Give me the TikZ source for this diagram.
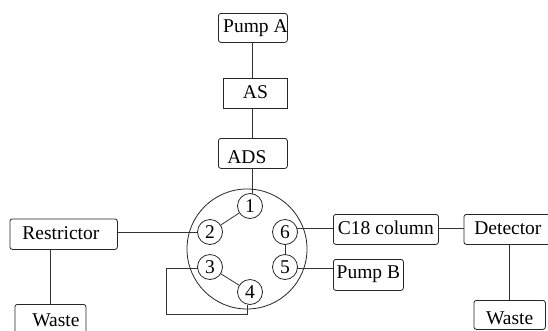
\documentclass[tikz,border=0pt]{standalone}
\usepackage{fontspec}
\setmainfont{Liberation Serif}
\tikzset{
  x=1pt,y=-1pt,
  wire/.style={draw=black!80,line width=0.8pt},
  rbox/.style={draw=black!85,line width=0.8pt,rounded corners=2.5pt,inner sep=0pt,anchor=north west,align=center,font=\fontsize{19.5}{20}\selectfont},
  sbox/.style={rbox,rounded corners=0pt},
  port/.style={draw=black!85,line width=0.8pt,circle,minimum size=25pt,inner sep=0pt,font=\fontsize{19.5}{20}\selectfont},
  ring/.style={draw=black!85,line width=0.8pt,circle,minimum size=120pt,inner sep=0pt}
}
% text placed with its baseline dy below and its centre dx right of the box centre
\newcommand{\placedtext}[3]{\raisebox{-#2pt}[0pt][0pt]{\makebox[0pt]{\hspace*{#1pt}\hspace*{#1pt}#3}}}
\begin{document}
\begin{tikzpicture}
\useasboundingbox (0,0) rectangle (548,330);
\clip (0,0) rectangle (548,330);
\node[ring] (valve) at (247,249) {};
\node[port] (p1) at (250,206) {1};
\node[port] (p2) at (210,232) {2};
\node[port] (p3) at (210,267) {3};
\node[port] (p4) at (250,292) {4};
\node[port] (p5) at (285,267) {5};
\node[port] (p6) at (285,232) {6};
\node[rbox,minimum width=69pt,minimum height=29pt] (pumpa) at (218,13) {\placedtext{2.5}{4.8}{Pump A}};
\node[sbox,minimum width=64.5pt,minimum height=30pt] (as) at (222.5,78) {\placedtext{0.25}{4.7}{AS}};
\node[rbox,minimum width=69pt,minimum height=30pt] (ads) at (218,138) {\placedtext{-6}{10.3}{ADS}};
\node[rbox,minimum width=107.5pt,minimum height=30.5pt] (restrictor) at (9.5,218.5) {\placedtext{-2.75}{5.25}{Restrictor}};
\node[rbox,minimum width=71pt,minimum height=40pt] (wastel) at (14.5,304) {\placedtext{5.5}{2.5}{Waste}};
\node[rbox,minimum width=105pt,minimum height=30pt] (c18) at (333,214) {\placedtext{0}{5}{C18 column}};
\node[rbox,minimum width=70pt,minimum height=31pt] (pumpb) at (333,259) {\placedtext{0}{3.5}{Pump B}};
\node[rbox,minimum width=100pt,minimum height=30pt] (detector) at (463.5,214) {\placedtext{-6}{5}{Detector}};
\node[rbox,minimum width=71.5pt,minimum height=29pt] (waster) at (473.5,300) {\placedtext{0}{9.5}{Waste}};
\coordinate (a1) at (252,42);\coordinate (a2) at (252,78);
\coordinate (a3) at (252,108);\coordinate (a4) at (252,138);
\coordinate (a5) at (252,168);\coordinate (a6) at (252,193.5);
\coordinate (lw1) at (50,249);\coordinate (lw2) at (50,304);
\coordinate (rw1) at (509,244);\coordinate (rw2) at (509,300);
\coordinate (l0) at (197.5,268);\coordinate (l1) at (166.5,268);
\coordinate (l2) at (166.5,314.5);\coordinate (l3) at (247,314.5);\coordinate (l4) at (247,304.5);
\coordinate (s6) at (296.8,228);\coordinate (s5) at (297.4,268.7);
\draw[wire] (a1) -- (a2);
\draw[wire] (a3) -- (a4);
\draw[wire] (a5) -- (a6);
\draw[wire] (p1) -- (p2);
\draw[wire] (p3) -- (p4);
\draw[wire] (p5) -- (p6);
\draw[wire] (restrictor.east |- p2) -- (p2.west);
\draw[wire] (lw1) -- (lw2);
\draw[wire] (rw1) -- (rw2);
\draw[wire] (s6) -- (c18.west |- s6);
\draw[wire] (c18.east |- s6) -- (detector.west |- s6);
\draw[wire] (s5) -- (pumpb.west |- s5);
\draw[wire] (l0) -- (l1) -- (l2) -- (l3) -- (l4);
\end{tikzpicture}
\end{document}
